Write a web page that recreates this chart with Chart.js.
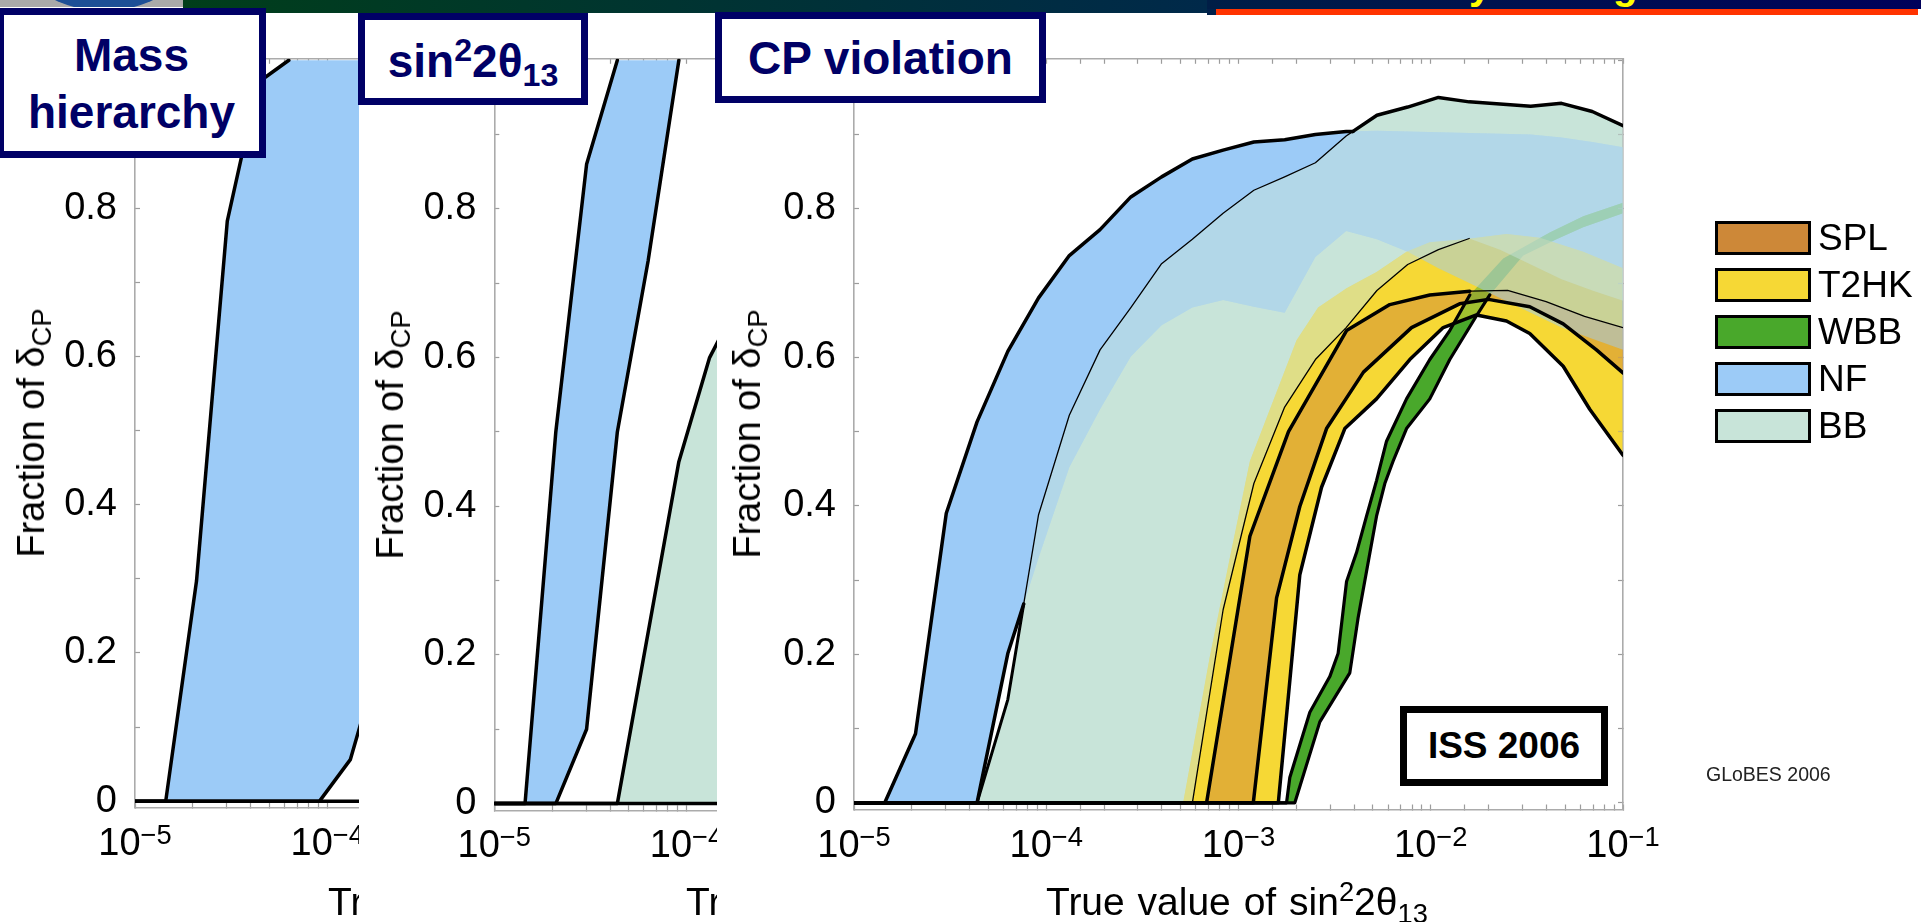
<!DOCTYPE html>
<html><head><meta charset="utf-8">
<script src="https://cdn.jsdelivr.net/npm/chart.js"></script>
<style>
html,body{margin:0;padding:0;background:#fff;}
body{width:1921px;height:922px;position:relative;overflow:hidden;font-family:'Liberation Sans',Arial,Helvetica,sans-serif;}
.panel{position:absolute;top:13px;height:909px;background:#fff;overflow:hidden;}
.panel canvas{position:absolute;left:0;top:0;}
.ytitle{position:absolute;font-size:38px;line-height:38px;white-space:nowrap;transform:translate(-50%,-50%) rotate(-90deg);color:#000;}
.xtitle{position:absolute;font-size:39px;line-height:38px;word-spacing:2px;white-space:nowrap;color:#000;}
.xtick{position:absolute;font-size:38px;line-height:38px;white-space:nowrap;transform:translateX(-50%);color:#000;}
.sp{font-size:0.7em;vertical-align:0.5em;line-height:0;}
.sb{font-size:0.7em;vertical-align:-0.28em;line-height:0;}
.lbl{position:absolute;border:7px solid #000066;background:#fff;color:#000066;font-weight:bold;font-size:46px;box-sizing:border-box;text-align:center;white-space:nowrap;z-index:10;}
.banner{position:absolute;z-index:5;}
.lg{position:absolute;left:998px;height:34px;display:flex;align-items:center;}
.sw{display:block;width:96px;height:34px;box-sizing:border-box;border:3px solid #000;}
.lt{font-size:37px;line-height:34px;margin-left:7px;color:#000;}
</style>
</head>
<body>
<!-- slide header strip -->
<div class="banner" style="left:0;top:0;width:183px;height:7px;background:#a9a9a9;overflow:hidden;">
  <div style="position:absolute;left:-11px;top:-219px;width:230px;height:230px;border-radius:50%;background:#1d4f96;"></div>
</div>
<div class="banner" style="left:183px;top:0;width:1024px;height:13px;background:linear-gradient(90deg,#003e1a,#00294a);"></div>
<div class="banner" style="left:1207px;top:0;width:714px;height:9px;background:linear-gradient(90deg,#001e46,#00005a);overflow:hidden;">
  <span style="position:absolute;left:262px;top:-37px;font-size:40px;font-weight:bold;color:#ffff00;">y</span>
  <span style="position:absolute;left:406px;top:-37px;font-size:40px;font-weight:bold;color:#ffff00;">g</span>
</div>
<div class="banner" style="left:1207px;top:9px;width:9px;height:6px;background:#00204a;"></div>
<div class="banner" style="left:1216px;top:9px;width:702px;height:6px;background:#ff3300;"></div>

<div class="panel" id="p1" style="left:0;width:359px;z-index:1;"><canvas id="c1"></canvas></div>
<div class="panel" id="p2" style="left:359px;width:358px;z-index:2;"><canvas id="c2"></canvas></div>
<div class="panel" id="p3" style="left:717px;width:1204px;z-index:3;"><canvas id="c3"></canvas></div>

<div class="lbl" style="left:-3px;top:8px;width:269px;height:150px;line-height:56.6px;padding-top:12px;">Mass<br>hierarchy</div>
<div class="lbl" style="left:358px;top:13px;width:230px;height:92px;line-height:46px;padding-top:18px;">sin<span class="sp">2</span>2θ<span class="sb">13</span></div>
<div class="lbl" style="left:715px;top:12px;width:331px;height:91px;line-height:46px;padding-top:16px;">CP violation</div>

<script>
// ---------------- data ----------------
// common sampling grid of sin^2 2theta13 (log-spaced)
const sinGrid = [1e-5, 1.445e-5, 2.089e-5, 3.020e-5, 4.365e-5, 6.310e-5, 9.120e-5, 1.318e-4, 1.905e-4,
  2.754e-4, 3.981e-4, 5.754e-4, 8.318e-4, 1.202e-3, 1.738e-3, 2.512e-3, 3.631e-3, 5.248e-3, 7.586e-3,
  1.096e-2, 1.585e-2, 2.291e-2, 3.311e-2, 4.786e-2, 6.918e-2, 1.0e-1];

const xTickValues = [1e-5, 1e-4, 1e-3, 1e-2, 1e-1];
const xTickExponents = ['−5', '−4', '−3', '−2', '−1'];
const yTickValues = [0, 0.2, 0.4, 0.6, 0.8, 1];
const yTickLabels = ['0', '0.2', '0.4', '0.6', '0.8', '1'];
const yMinorTicks = [0.1, 0.3, 0.5, 0.7, 0.9];

// Panel 1: mass hierarchy (first 9 grid points visible)
const mhNFUpper = [0, 0, 0.297, 0.783, 0.97, 1.0, 1.0, 1.0, 1.0];
const mhNFLower = [0, 0, 0, 0, 0, 0, 0, 0.056, 0.20];
const mhOthers  = [0, 0, 0, 0, 0, 0, 0, 0, 0];

// Panel 2: sin^2 2theta13 discovery
const s13NFUpper = [0, 0, 0.50, 0.86, 1.0, 1.0, 1.0, 1.0, 1.0];
const s13NFLower = [0, 0, 0, 0.10, 0.50, 0.73, 1.0, 1.0, 1.0];
const s13BBUpper = [0, 0, 0, 0, 0, 0.23, 0.46, 0.60, 0.68];
const s13BBLower = [0, 0, 0, 0, 0, 0, 0, 0, 0];

// Panel 3: CP violation
const cpNFUpper = [0, 0, 0.093, 0.39, 0.513, 0.608, 0.680, 0.737, 0.772, 0.816, 0.843, 0.867, 0.879,
  0.890, 0.893, 0.900, 0.904, 0.905, 0.904, 0.903, 0.902, 0.901, 0.900, 0.896, 0.890, 0.883];
const cpNFLower = [0, 0, 0, 0, 0, 0.201, 0.33, 0.452, 0.53, 0.601, 0.643, 0.667, 0.677,
  0.668, 0.660, 0.735, 0.770, 0.759, 0.742, 0.72, 0.70, 0.68, 0.66, 0.64, 0.625, 0.61];
const cpBBUpper = [0, 0, 0, 0, 0, 0.139, 0.388, 0.522, 0.610, 0.667, 0.726, 0.759, 0.794,
  0.825, 0.843, 0.862, 0.898, 0.926, 0.937, 0.950, 0.944, 0.941, 0.938, 0.942, 0.931, 0.912];
const cpBBLower = [0, 0, 0, 0, 0, 0, 0, 0, 0, 0, 0, 0, 0.26,
  0.43, 0.533, 0.597, 0.640, 0.69, 0.725, 0.745, 0.76, 0.745, 0.725, 0.705, 0.69, 0.676];

const t2hkUpperX = [1e-5, 5.152e-4, 7.096e-4, 9.016e-4, 1.146e-3, 2.004e-3, 2.594e-3, 3.648e-3,
  5.224e-3, 7.482e-3, 9.886e-3, 1.503e-2, 2.477e-2, 3.690e-2, 6.209e-2, 1e-1];
const t2hkUpperY = [0, 0, 0.197, 0.33, 0.46, 0.623, 0.667, 0.693, 0.715, 0.742, 0.755, 0.759, 0.766, 0.761, 0.742, 0.720];
const t2hkLowerX = [1e-5, 1.611e-3, 2.084e-3, 2.704e-3, 3.573e-3, 5.224e-3, 7.780e-3, 1.161e-2,
  1.730e-2, 2.477e-2, 3.273e-2, 4.887e-2, 6.714e-2, 1e-1];
const t2hkLowerY = [0, 0, 0.307, 0.425, 0.504, 0.544, 0.597, 0.640, 0.657, 0.649, 0.632, 0.588, 0.53, 0.468];

const splUpperX = [1e-5, 6.823e-4, 1.146e-3, 1.820e-3, 3.648e-3, 6.124e-3, 9.886e-3, 1.596e-2, 2.512e-2, 3.981e-2, 6.310e-2, 1e-1];
const splUpperY = [0, 0, 0.359, 0.50, 0.636, 0.671, 0.684, 0.689, 0.690, 0.675, 0.655, 0.640];
const splLowerX = [1e-5, 1.194e-3, 1.578e-3, 2.084e-3, 2.871e-3, 4.467e-3, 7.943e-3, 1.413e-2, 1.995e-2, 3.273e-2, 4.887e-2, 7.278e-2, 1e-1];
const splLowerY = [0, 0, 0.276, 0.399, 0.504, 0.58, 0.64, 0.672, 0.678, 0.668, 0.645, 0.610, 0.579];

const wbbUpperX = [1e-5, 1.778e-3, 1.849e-3, 2.350e-3, 2.985e-3, 3.296e-3, 3.648e-3, 4.111e-3, 4.634e-3,
  5.224e-3, 5.888e-3, 7.482e-3, 9.886e-3, 1.256e-2, 1.596e-2, 2.382e-2, 4.159e-2, 6.209e-2, 1e-1];
const wbbUpperY = [0, 0, 0.034, 0.122, 0.170, 0.201, 0.298, 0.337, 0.386, 0.434, 0.487, 0.544, 0.597, 0.636, 0.684, 0.733, 0.768, 0.790, 0.808];
const wbbLowerX = [1e-5, 1.963e-3, 2.649e-3, 3.793e-3, 4.188e-3, 5.224e-3, 5.768e-3, 6.368e-3, 7.482e-3,
  9.886e-3, 1.256e-2, 1.730e-2, 2.028e-2, 3.027e-2, 4.508e-2, 6.209e-2, 1e-1];
const wbbLowerY = [0, 0, 0.109, 0.175, 0.249, 0.386, 0.430, 0.460, 0.504, 0.544, 0.597, 0.656, 0.684, 0.737, 0.759, 0.775, 0.794];

const legendNames = ['SPL', 'T2HK', 'WBB', 'NF', 'BB'];
const legendColors = ['#cd8838', '#f6d835', '#49a82b', '#9ccbf7', '#c8e4d9'];
const bandColor = { SPL: '#cd8838', T2HK: '#f6d835', WBB: '#49a82b', NF: '#9ccbf7', BB: '#c8e4d9' };

// ---------------- helpers ----------------
const FONT = "'Liberation Sans', Arial, Helvetica, sans-serif";
function pts(xs, ys, from, to) {
  if (from === undefined) from = 0;
  if (to === undefined) to = xs.length - 1;
  const out = [];
  for (let i = from; i <= to; i++) out.push({ x: xs[i], y: ys[i] });
  return out;
}
function bandShape(xu, yu, xl, yl) { return pts(xu, yu).concat(pts(xl, yl).reverse()); }
// where two curves sampled on the same grid cross between samples i and i+1
function crossing(xs, ya, yb, i) {
  const da = ya[i] - yb[i], db = ya[i + 1] - yb[i + 1];
  const t = da / (da - db);
  const l0 = Math.log10(xs[i]), l1 = Math.log10(xs[i + 1]);
  return { x: Math.pow(10, l0 + t * (l1 - l0)), y: ya[i] + t * (ya[i + 1] - ya[i]) };
}
function rgba(hex, a) { const n = parseInt(hex.slice(1), 16); return 'rgba(' + ((n >> 16) & 255) + ',' + ((n >> 8) & 255) + ',' + (n & 255) + ',' + a + ')'; }

let seq = 0;
function fillDS(data, color, mode) {
  return { data: data.map(p => ({ x: p.x, y: p.y })), fill: 'shape', backgroundColor: color, borderWidth: 0,
    pointRadius: 0, blendMode: mode, order: 1000 - (seq++), xAxisID: 'x', yAxisID: 'y' };
}
function lineDS(data, width) {
  return { data, fill: false, borderColor: '#000', borderWidth: width, pointRadius: 0, borderJoinStyle: 'round',
    borderCapStyle: 'round', order: 1000 - (seq++), xAxisID: 'x', yAxisID: 'y' };
}
function addBand(list, shape, color, blend) {
  if (blend) {
    list.push(fillDS(shape, rgba(color, 0.5), 'source-over'));
    list.push(fillDS(shape, color, 'destination-over'));
  } else {
    list.push(fillDS(shape, color, 'source-over'));
  }
}

// composite-mode switcher so overlapping bands mix like in the original
function applyMode(chart, pos) {
  const metas = chart.getSortedVisibleDatasetMetas();
  let mode = 'source-over';
  if (pos >= 0 && metas[pos]) {
    const ds = chart.data.datasets[metas[pos].index];
    if (ds.blendMode) mode = ds.blendMode;
  }
  chart.ctx.globalCompositeOperation = mode;
}
const blendPlugin = {
  id: 'bandBlend',
  beforeDatasetsDraw(chart) { applyMode(chart, chart.getSortedVisibleDatasetMetas().length - 1); },
  afterDatasetDraw(chart, args) {
    const metas = chart.getSortedVisibleDatasetMetas();
    applyMode(chart, metas.indexOf(args.meta) - 1);
  },
  afterDatasetsDraw(chart) { chart.ctx.globalCompositeOperation = 'source-over'; }
};

function gridOpts() { return { drawOnChartArea: false, drawTicks: true, tickLength: -5, color: '#9c9c9c', tickWidth: 1.2 }; }
function borderOpts() { return { display: true, color: '#ababab', width: 1.6 }; }
const yTicksAll = yTickValues.concat(yMinorTicks).sort((a, b) => a - b);
function setYTicks(s) { s.ticks = yTicksAll.map(v => ({ value: v })); }

function buildChart(canvas, W, H, area, datasets) {
  canvas.width = W; canvas.height = H;
  canvas.style.width = W + 'px'; canvas.style.height = H + 'px';
  return new Chart(canvas, {
    type: 'line',
    data: { datasets },
    options: {
      responsive: false, animation: false, devicePixelRatio: 1, events: [],
      layout: { padding: { left: 0, top: area.top, right: W - area.right, bottom: 0 } },
      plugins: { legend: { display: false }, tooltip: { enabled: false }, filler: { drawTime: 'beforeDatasetDraw' } },
      elements: { line: { tension: 0 }, point: { radius: 0 } },
      scales: {
        x: { type: 'logarithmic', position: 'bottom', min: 1e-5, max: 1e-1,
          afterFit: s => { s.height = H - area.bottom; },
          ticks: { display: false, autoSkip: false }, grid: gridOpts(), border: borderOpts() },
        x2: { type: 'logarithmic', position: 'top', min: 1e-5, max: 1e-1,
          afterFit: s => { s.height = 0; },
          ticks: { display: false, autoSkip: false }, grid: gridOpts(), border: borderOpts() },
        y: { type: 'linear', position: 'left', min: -0.009, max: 1.002,
          afterFit: s => { s.width = area.left; }, afterBuildTicks: setYTicks,
          ticks: { autoSkip: false, padding: 23, color: '#000', font: { family: FONT, size: 38 },
            callback: v => { const i = yTickValues.findIndex(t => Math.abs(t - v) < 1e-9); return i >= 0 ? yTickLabels[i] : ''; } },
          grid: gridOpts(), border: borderOpts() },
        y2: { type: 'linear', position: 'right', min: -0.009, max: 1.002,
          afterFit: s => { s.width = 0; }, afterBuildTicks: setYTicks,
          ticks: { display: false }, grid: gridOpts(), border: borderOpts() }
      }
    },
    plugins: [blendPlugin]
  });
}

function addAxisText(panel, chart, opts) {
  const sx = chart.scales.x;
  xTickValues.forEach((v, i) => {
    const d = document.createElement('div');
    d.className = 'xtick';
    d.style.left = sx.getPixelForValue(v) + 'px';
    d.style.top = opts.tickTop + 'px';
    d.innerHTML = '10<span class="sp" style="font-size:0.72em;vertical-align:0.42em">' + xTickExponents[i] + '</span>';
    panel.appendChild(d);
  });
  const yt = document.createElement('div');
  yt.className = 'ytitle';
  yt.style.left = opts.yTitleX + 'px';
  yt.style.top = ((chart.chartArea.top + chart.chartArea.bottom) / 2) + 'px';
  yt.innerHTML = 'Fraction of δ<span class="sb" style="font-size:0.72em;vertical-align:-0.25em">CP</span>';
  panel.appendChild(yt);
  const xt = document.createElement('div');
  xt.className = 'xtitle';
  xt.style.left = opts.xTitleLeft + 'px';
  xt.style.top = opts.xTitleTop + 'px';
  xt.innerHTML = 'True value of sin<span class="sp">2</span>2θ<span class="sb">13</span>';
  panel.appendChild(xt);
}

const g9 = sinGrid.slice(0, 9);

// ---------------- panel 1 ----------------
seq = 0;
const ds1 = [];
addBand(ds1, bandShape(g9, mhNFUpper, g9, mhNFLower), bandColor.NF, false);
ds1.push(lineDS(pts(g9, mhOthers), 3.5));
ds1.push(lineDS(pts(g9, mhNFUpper, 0, 5), 3.5));
ds1.push(lineDS(pts(g9, mhNFLower), 3.5));
const p1 = document.getElementById('p1');
const ch1 = buildChart(document.getElementById('c1'), 920, 909, { left: 135, top: 27.5, right: 904, bottom: 794.8 }, ds1);
addAxisText(p1, ch1, { tickTop: 810, yTitleX: 30.5, xTitleLeft: 328, xTitleTop: 870 });

// ---------------- panel 2 ----------------
seq = 0;
const ds2 = [];
addBand(ds2, bandShape(g9, s13BBUpper, g9, s13BBLower), bandColor.BB, false);
addBand(ds2, bandShape(g9, s13NFUpper, g9, s13NFLower), bandColor.NF, false);
ds2.push(lineDS(pts(g9, s13BBLower), 3.5));
ds2.push(lineDS(pts(g9, s13BBUpper), 3.5));
ds2.push(lineDS(pts(g9, s13NFUpper, 0, 4), 3.5));
ds2.push(lineDS(pts(g9, s13NFLower, 0, 6), 3.5));
const p2 = document.getElementById('p2');
const ch2 = buildChart(document.getElementById('c2'), 920, 909, { left: 135.3, top: 29.5, right: 904.3, bottom: 797.3 }, ds2);
addAxisText(p2, ch2, { tickTop: 812, yTitleX: 30.5, xTitleLeft: 327, xTitleTop: 870 });

// ---------------- panel 3 ----------------
seq = 0;
const ds3 = [];
addBand(ds3, bandShape(t2hkUpperX, t2hkUpperY, t2hkLowerX, t2hkLowerY), bandColor.T2HK, true);
addBand(ds3, bandShape(splUpperX, splUpperY, splLowerX, splLowerY), bandColor.SPL, true);
addBand(ds3, bandShape(wbbUpperX, wbbUpperY, wbbLowerX, wbbLowerY), bandColor.WBB, true);
addBand(ds3, bandShape(sinGrid, cpNFUpper, sinGrid, cpNFLower), bandColor.NF, true);
addBand(ds3, bandShape(sinGrid, cpBBUpper, sinGrid, cpBBLower), bandColor.BB, true);
// crossings of the NF and BB edges (computed from the curves)
const xLow = crossing(sinGrid, cpNFLower, cpBBUpper, 5);   // NF lower edge meets BB upper edge
const xTop = crossing(sinGrid, cpNFUpper, cpBBUpper, 16);  // NF upper edge meets BB upper edge
ds3.push(lineDS(pts(sinGrid, cpBBLower, 0, 11), 3.5));
ds3.push(lineDS(pts(sinGrid, cpBBLower, 11, 20), 1.3));
ds3.push(lineDS(pts(sinGrid, cpBBUpper, 4, 5).concat([xLow]), 3.0));
ds3.push(lineDS([xLow].concat(pts(sinGrid, cpBBUpper, 6, 16), [xTop]), 1.3));
ds3.push(lineDS([xTop].concat(pts(sinGrid, cpBBUpper, 17, 25)), 3.5));
ds3.push(lineDS(pts(sinGrid, cpNFUpper, 0, 16).concat([xTop]), 3.5));
ds3.push(lineDS(pts(sinGrid, cpNFLower, 0, 5).concat([xLow]), 3.5));
ds3.push(lineDS(pts(t2hkLowerX, t2hkLowerY), 3.5));
ds3.push(lineDS(pts(splUpperX, splUpperY, 0, 7), 3.5));
ds3.push(lineDS(pts(splUpperX, splUpperY, 7, 11), 1.3));
ds3.push(lineDS(pts(splLowerX, splLowerY), 3.5));
ds3.push(lineDS(pts(wbbUpperX, wbbUpperY, 0, 14), 3.2));
ds3.push(lineDS(pts(wbbLowerX, wbbLowerY, 0, 12), 3.2));
const p3 = document.getElementById('p3');
const ch3 = buildChart(document.getElementById('c3'), 1204, 909, { left: 137, top: 29.3, right: 906, bottom: 796.5 }, ds3);
addAxisText(p3, ch3, { tickTop: 812, yTitleX: 30.3, xTitleLeft: 329, xTitleTop: 870 });

// legend, stamp boxes
legendNames.forEach((n, i) => {
  const row = document.createElement('div');
  row.className = 'lg';
  row.style.top = (207.8 + i * 47) + 'px';
  row.innerHTML = '<span class="sw" style="background:' + legendColors[i] + '"></span><span class="lt">' + n + '</span>';
  p3.appendChild(row);
});
const globes = document.createElement('div');
globes.style.cssText = 'position:absolute;left:989px;top:750px;font-size:19.5px;line-height:22px;color:#222;white-space:nowrap;';
globes.textContent = 'GLoBES 2006';
p3.appendChild(globes);
const iss = document.createElement('div');
iss.style.cssText = 'position:absolute;left:683px;top:693px;width:208px;height:80px;box-sizing:border-box;border:7px solid #000;background:#fff;display:flex;align-items:center;justify-content:center;font-weight:bold;font-size:37px;color:#000;';
iss.textContent = 'ISS 2006';
p3.appendChild(iss);
</script>
</body></html>
